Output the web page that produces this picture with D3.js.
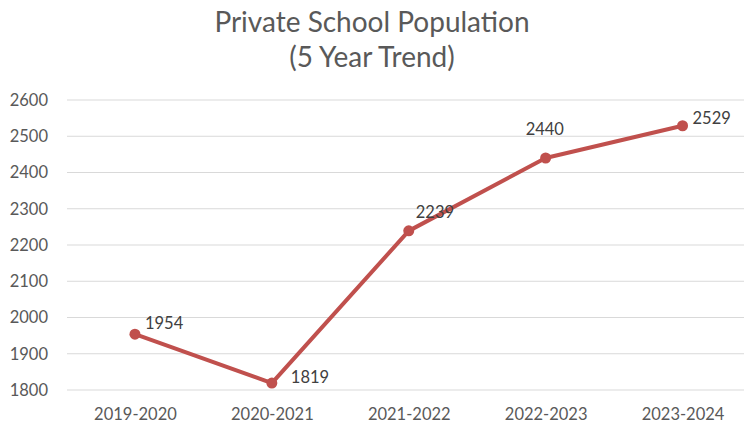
<!DOCTYPE html>
<html><head><meta charset="utf-8">
<script src="https://cdn.jsdelivr.net/npm/d3@7"></script>
<style>body{margin:0;background:#fff}svg{display:block}</style>
</head><body>
<svg id="c" width="744" height="423"></svg>
<script>
const categories = ["2019-2020","2020-2021","2021-2022","2022-2023","2023-2024"];
const values = [1954, 1819, 2239, 2440, 2529];
const yTicks = [1800,1900,2000,2100,2200,2300,2400,2500,2600];
const titleLines = ["Private School Population","(5 Year Trend)"];
// label offsets (layout)
const labelDx = [10, 19, 7, -20, 10];
const labelDy = [-9, -4, -17, -27, -6];

const svg = d3.select("#c");
const font = "Lato, 'Open Sans', sans-serif";
const gray = "#595959";
const red = "#C0504D";

const x = d3.scalePoint().domain(categories).range([66.5, 751]).padding(0.5);
const y = d3.scaleLinear().domain([1800, 2600]).range([390, 100]);

svg.append("g").selectAll("line").data(yTicks).join("line")
  .attr("x1", 67).attr("x2", 744)
  .attr("y1", d => y(d)).attr("y2", d => y(d))
  .attr("stroke", "#d9d9d9").attr("stroke-width", 1);

const yAxis = svg.append("g").attr("transform", "translate(67,0)")
  .call(d3.axisLeft(y).tickValues(yTicks).tickSize(0).tickPadding(19).tickFormat(d3.format("d")));
yAxis.select(".domain").remove();
yAxis.selectAll("text").attr("fill", gray).style("font-family", font).style("font-size", "16.5px");

const xAxis = svg.append("g").attr("transform", "translate(0,390)")
  .call(d3.axisBottom(x).tickSize(0).tickPadding(18));
xAxis.select(".domain").remove();
xAxis.selectAll("text").attr("fill", gray).style("font-family", font).style("font-size", "16.5px");

const data = categories.map((c, i) => ({c, v: values[i], i}));
svg.append("path").datum(data)
  .attr("fill", "none").attr("stroke", red).attr("stroke-width", 4).attr("stroke-linejoin", "round")
  .attr("d", d3.line().x(d => x(d.c)).y(d => y(d.v)));
svg.append("g").selectAll("circle").data(data).join("circle")
  .attr("cx", d => x(d.c)).attr("cy", d => y(d.v)).attr("r", 5.5).attr("fill", red);

svg.append("g").selectAll("text").data(data).join("text")
  .attr("x", d => x(d.c) + labelDx[d.i]).attr("y", d => y(d.v) + labelDy[d.i])
  .attr("dominant-baseline", "middle")
  .attr("fill", "#404040").style("font-family", font).style("font-size", "16.5px")
  .text(d => d.v);

svg.append("g").selectAll("text").data(titleLines).join("text")
  .attr("x", 372).attr("y", (d, i) => 32 + i * 35)
  .attr("text-anchor", "middle").attr("fill", gray)
  .style("font-family", font).style("font-size", "28px")
  .text(d => d);
</script>
</body></html>
